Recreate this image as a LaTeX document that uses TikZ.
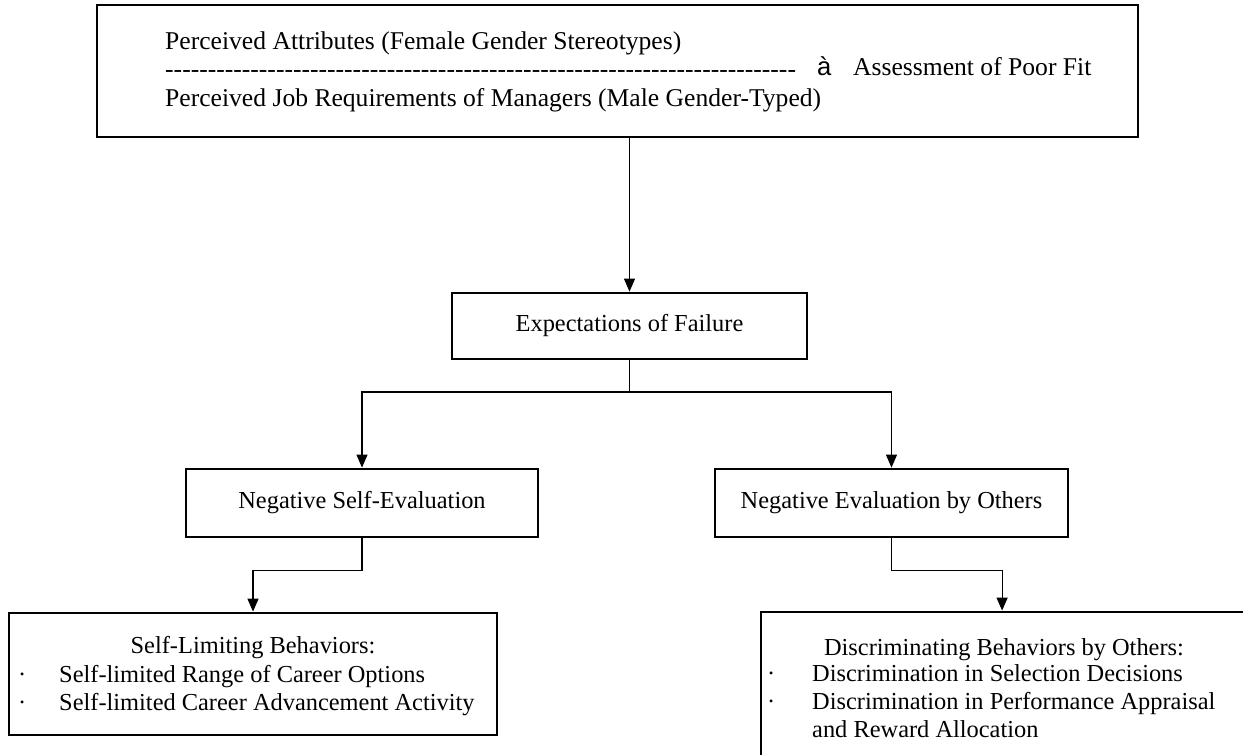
\documentclass[tikz,border=0pt]{standalone}
\usepackage{fontspec}
\setmainfont{Liberation Serif}[Ligatures=TeXOff]
\newfontfamily\arrowfont{Liberation Sans}
\usetikzlibrary{arrows.meta}
\newcommand\fs{\fontsize{24.4}{28.5}\selectfont}
\newcommand\fst{\fontsize{25.6}{29}\selectfont}
\tikzset{
  box/.style={draw, line width=2.8pt, inner sep=0pt, font=\fs},
  conn/.style={line width=1.2pt, -{Triangle[width=11pt,length=13pt]}},
  plain/.style={line width=1.2pt},
  txt/.style={inner sep=0pt, anchor=base west, font=\fs},
  ttxt/.style={inner sep=0pt, anchor=base west, font=\fst},
  ctxt/.style={inner sep=0pt, anchor=base, font=\fs}
}
\begin{document}
\begin{tikzpicture}[x=1pt,y=-1pt]
\useasboundingbox (0,0) rectangle (1243,755);
\clip (0,0) rectangle (1243,755);
% boxes
\node[box, minimum width=1041pt, minimum height=132pt] (top) at (617.5,71) {};
\node[box, minimum width=355pt, minimum height=66pt] (exp) at (629.5,326) {Expectations of Failure};
\node[box, minimum width=352pt, minimum height=68pt] (nse) at (362,503) {Negative Self-Evaluation};
\node[box, minimum width=353pt, minimum height=68pt] (neo) at (891.5,503) {Negative Evaluation by Others};
\node[box, minimum width=488pt, minimum height=122pt] (slb) at (253,674) {};
\node[box, minimum width=509pt, minimum height=168pt] (dbo) at (1015.5,696) {};
% top box text
\node[ttxt] (t1) at (165,49) {Perceived Attributes (Female Gender Stereotypes)};
\node[ttxt] (t2) at (165,77) {--------------------------------------------------------------------------};
\node[ttxt, font=\fst\arrowfont] (t3) at (817,75) {à};
\node[ttxt] (t4) at (853,75) {Assessment of Poor Fit};
\node[ttxt] (t5) at (165,106) {Perceived Job Requirements of Managers (Male Gender-Typed)};
% bottom left text
\node[ctxt] (s0) at (253,653) {Self-Limiting Behaviors:};
\node[txt] (sb1) at (18,682) {·};
\node[txt] (s1) at (59,682) {Self-limited Range of Career Options};
\node[txt] (sb2) at (18,710) {·};
\node[txt] (s2) at (59,710) {Self-limited Career Advancement Activity};
% bottom right text
\node[ctxt] (d0) at (1004,655) {Discriminating Behaviors by Others:};
\node[txt] (db1) at (767,681) {·};
\node[txt] (d1) at (812,681) {Discrimination in Selection Decisions};
\node[txt] (db2) at (767,709) {·};
\node[txt] (d2) at (812,709) {Discrimination in Performance Appraisal};
\node[txt] (d3) at (812,737) {and Reward Allocation};
% connectors
\coordinate (j1) at (629.5,392);
\draw[conn] (top.south -| exp.north) -- (exp.north);
\draw[plain] (exp.south) -- (j1);
\draw[conn] (j1) -| (nse.north);
\draw[conn] (j1) -| (neo.north);
\draw[conn] (nse.south) -- ++(0,32) -| (slb.north);
\draw[conn] (neo.south) -- ++(0,32) -| ([xshift=242.5pt]dbo.north west);
\end{tikzpicture}
\end{document}
